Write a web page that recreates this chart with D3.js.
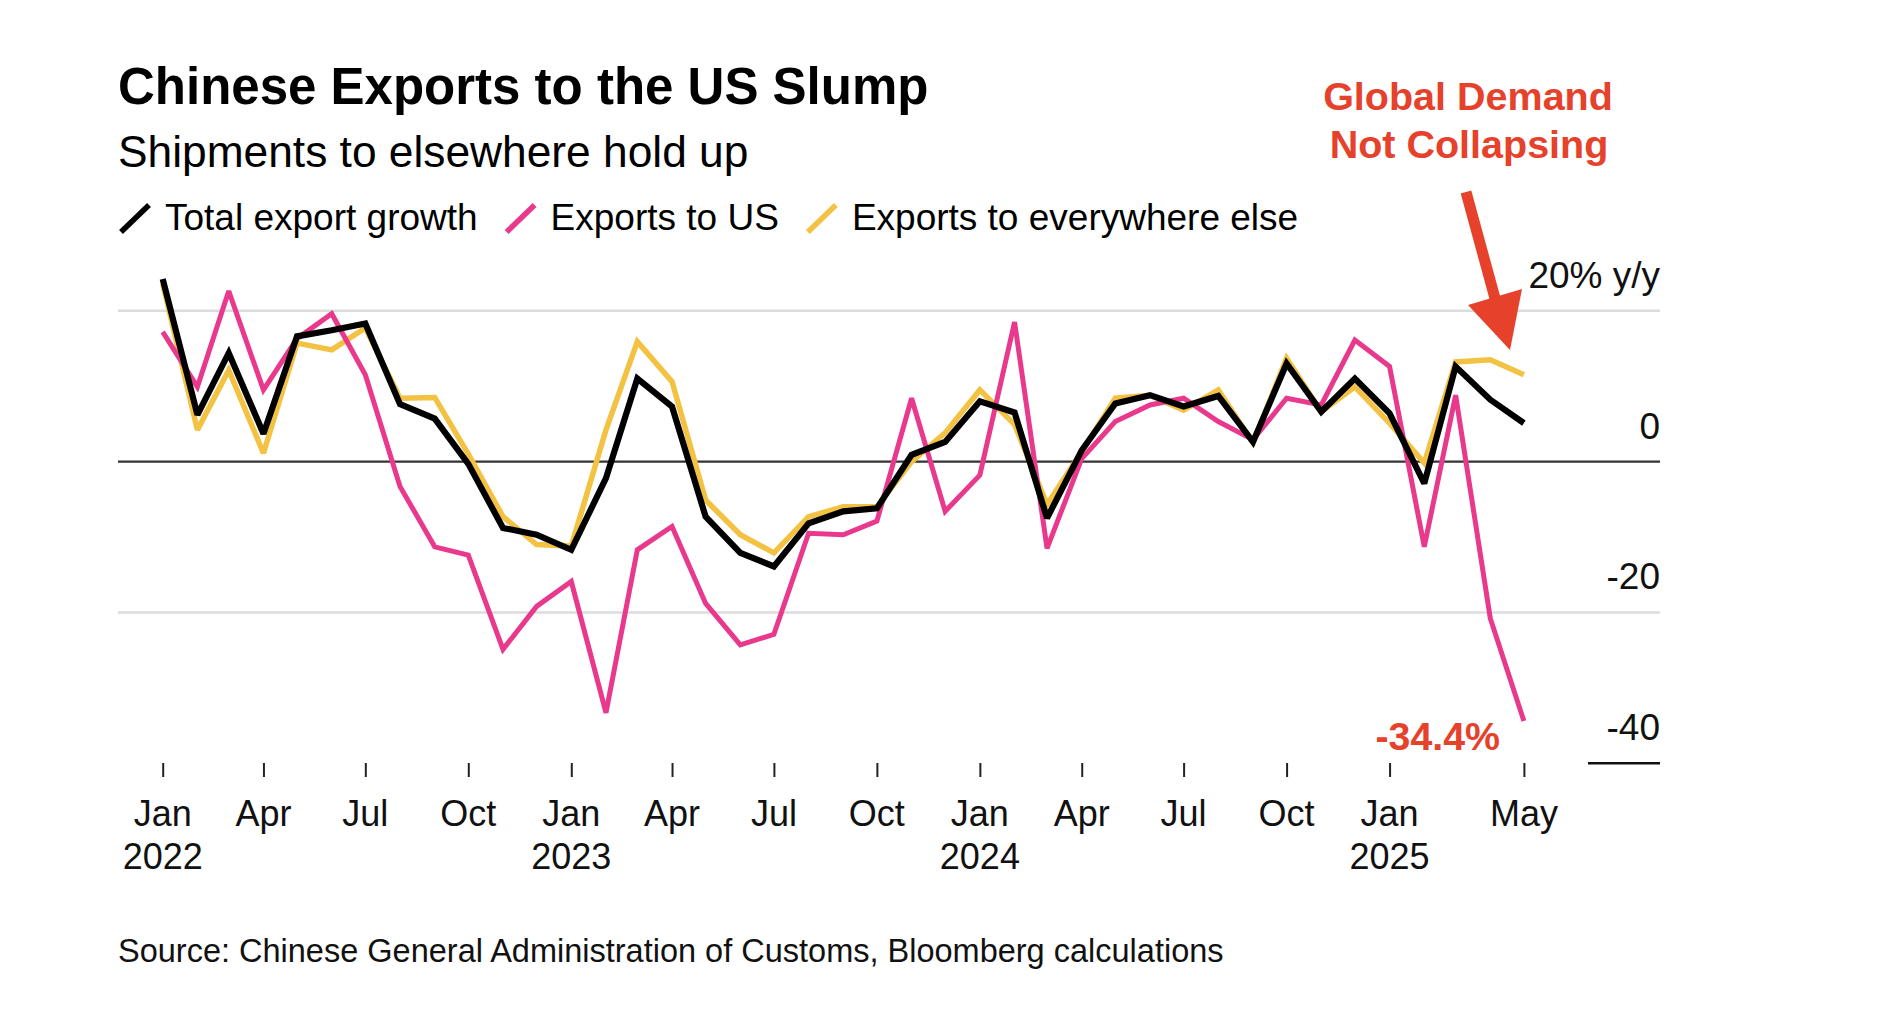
<!DOCTYPE html>
<html>
<head>
<meta charset="utf-8">
<script src="https://cdnjs.cloudflare.com/ajax/libs/d3/7.8.5/d3.min.js"></script>
<style>
  body { margin: 0; background: #fff; }
  svg text { font-family: "Liberation Sans", Arial, Helvetica, sans-serif; }
</style>
</head>
<body>
<div id="chart"></div>
<script>
const months = [
  '2022-01', '2022-02', '2022-03', '2022-04', '2022-05', '2022-06', '2022-07', '2022-08', '2022-09', '2022-10', '2022-11', '2022-12',
  '2023-01', '2023-02', '2023-03', '2023-04', '2023-05', '2023-06', '2023-07', '2023-08', '2023-09', '2023-10', '2023-11', '2023-12',
  '2024-01', '2024-02', '2024-03', '2024-04', '2024-05', '2024-06', '2024-07', '2024-08', '2024-09', '2024-10', '2024-11', '2024-12',
  '2025-01', '2025-02', '2025-03', '2025-04', '2025-05'
];

// % y/y
const totalGrowth = [
  24.2, 6.2, 14.4, 3.7, 16.6, 17.4, 18.3, 7.6, 5.7, -0.3, -8.8, -9.7,
  -11.7, -2.2, 11.0, 7.3, -7.3, -12.1, -13.9, -8.2, -6.6, -6.2, 0.9, 2.6,
  8.0, 6.5, -7.5, 1.5, 7.7, 8.8, 7.3, 8.7, 2.6, 13.0, 6.6, 11.0,
  6.4, -2.9, 12.6, 8.2, 5.1
];
const exportsToUS = [
  17.2, 9.9, 22.6, 9.5, 16.3, 19.6, 11.5, -3.3, -11.3, -12.4, -24.9, -19.2,
  -15.9, -33.3, -11.7, -8.6, -18.8, -24.3, -22.9, -9.5, -9.7, -7.9, 8.4, -6.6,
  -1.8, 18.5, -11.5, 0.4, 5.3, 7.5, 8.4, 5.3, 2.9, 8.4, 7.5, 16.1,
  12.6, -11.3, 8.8, -20.8, -34.4
];
const exportsElsewhere = [
  23.6, 4.2, 12.1, 1.1, 15.7, 14.8, 17.7, 8.4, 8.5, 1.0, -7.3, -11.0,
  -11.2, 4.2, 15.9, 10.6, -5.1, -9.7, -12.1, -7.3, -6.0, -6.0, 0.0, 3.8,
  9.5, 4.9, -5.7, 1.3, 8.4, 8.8, 6.8, 9.5, 2.5, 13.7, 6.6, 9.9,
  5.1, -0.2, 13.2, 13.5, 11.5
];

const seriesNames = ['Total export growth', 'Exports to US', 'Exports to everywhere else'];
const seriesColors = ['#000000', '#e8398d', '#f4c243'];

const yTicks = [20, 0, -20, -40];
const yTickLabels = ['20% y/y', '0', '-20', '-40'];

const xTicks = ['2022-01', '2022-04', '2022-07', '2022-10', '2023-01', '2023-04', '2023-07', '2023-10',
  '2024-01', '2024-04', '2024-07', '2024-10', '2025-01', '2025-05'];
const xTickMonths = ['Jan', 'Apr', 'Jul', 'Oct', 'Jan', 'Apr', 'Jul', 'Oct', 'Jan', 'Apr', 'Jul', 'Oct', 'Jan', 'May'];
const xTickYears = ['2022', '', '', '', '2023', '', '', '', '2024', '', '', '', '2025', ''];

const parseMonth = d3.timeParse('%Y-%m');
const red = '#e6412b';

const svgWidth = 1878;
const svgHeight = 1029;

const svg = d3.select('#chart')
  .append('svg')
  .attr('width', svgWidth)
  .attr('height', svgHeight)
  .style('background', '#fff');

const x = d3.scaleTime()
  .domain([parseMonth('2022-01'), parseMonth('2025-05')])
  .range([162.7, 1523.9]);

const y = d3.scaleLinear()
  .domain([-40, 20])
  .range([763.3, 310.7]);

const gridLeft = 118;
const gridRight = 1660;

// gridlines
svg.append('g')
  .selectAll('line')
  .data(yTicks)
  .enter()
  .append('line')
  .attr('x1', (d) => d === -40 ? 1588 : gridLeft)
  .attr('x2', gridRight)
  .attr('y1', (d) => y(d))
  .attr('y2', (d) => y(d))
  .attr('stroke', (d) => d === 0 ? '#333' : (d === -40 ? '#111' : '#dcdcdc'))
  .attr('stroke-width', (d) => d === 0 ? 2.2 : 2.6);

// y labels
svg.append('g')
  .selectAll('text')
  .data(yTicks)
  .enter()
  .append('text')
  .attr('x', gridRight)
  .attr('y', (d) => y(d) - 23)
  .attr('text-anchor', 'end')
  .attr('font-size', 37)
  .attr('fill', '#111')
  .text((d, i) => yTickLabels[i]);

// x ticks
const xAxis = d3.axisBottom(x)
  .tickValues(xTicks.map(parseMonth))
  .tickSize(14)
  .tickFormat('');

const xAxisG = svg.append('g')
  .attr('transform', 'translate(0, 763)')
  .call(xAxis);
xAxisG.select('.domain').remove();
xAxisG.selectAll('.tick line')
  .attr('stroke', '#222')
  .attr('stroke-width', 2);

const xLabels = svg.append('g')
  .selectAll('text')
  .data(xTicks)
  .enter()
  .append('text')
  .attr('text-anchor', 'middle')
  .attr('font-size', 36)
  .attr('fill', '#111');
xLabels.append('tspan')
  .attr('x', (d) => x(parseMonth(d)))
  .attr('y', 826)
  .text((d, i) => xTickMonths[i]);
xLabels.append('tspan')
  .attr('x', (d) => x(parseMonth(d)))
  .attr('y', 869)
  .text((d, i) => xTickYears[i]);

// lines, yellow under pink under black
const lineData = [exportsElsewhere, exportsToUS, totalGrowth];
const lineColors = [seriesColors[2], seriesColors[1], seriesColors[0]];
const lineWidths = [5.5, 5, 6.2];

const line = d3.line()
  .x((d, i) => x(parseMonth(months[i])))
  .y((d) => y(d));

svg.append('g')
  .selectAll('path')
  .data(lineData)
  .enter()
  .append('path')
  .attr('d', (d) => line(d))
  .attr('fill', 'none')
  .attr('stroke', (d, i) => lineColors[i])
  .attr('stroke-width', (d, i) => lineWidths[i])
  .attr('stroke-linejoin', 'miter')
  .attr('stroke-miterlimit', 2.5);

// title, subtitle
svg.append('text')
  .attr('x', 118)
  .attr('y', 104)
  .attr('font-size', 51)
  .attr('font-weight', 'bold')
  .attr('fill', '#000')
  .text('Chinese Exports to the US Slump');

svg.append('text')
  .attr('x', 118)
  .attr('y', 167)
  .attr('font-size', 44.3)
  .attr('fill', '#000')
  .text('Shipments to elsewhere hold up');

// legend
let legendX = 121;
seriesNames.forEach((name, i) => {
  const item = svg.append('g');
  item.append('line')
    .attr('x1', legendX)
    .attr('y1', 232)
    .attr('x2', legendX + 28)
    .attr('y2', 205)
    .attr('stroke', seriesColors[i])
    .attr('stroke-width', 5.5);
  const label = item.append('text')
    .attr('x', legendX + 44)
    .attr('y', 230)
    .attr('font-size', 37)
    .attr('fill', '#000')
    .text(name);
  legendX += 44 + label.node().getComputedTextLength() + 29;
});

// annotation
const note = svg.append('text')
  .attr('text-anchor', 'middle')
  .attr('font-size', 39.5)
  .attr('font-weight', 'bold')
  .attr('fill', red);
note.append('tspan').attr('x', 1468).attr('y', 110).text('Global Demand');
note.append('tspan').attr('x', 1469).attr('y', 158).text('Not Collapsing');

svg.append('line')
  .attr('x1', 1466)
  .attr('y1', 192)
  .attr('x2', 1496)
  .attr('y2', 302)
  .attr('stroke', red)
  .attr('stroke-width', 11);

svg.append('polygon')
  .attr('points', '1468,305 1522,289 1510,350')
  .attr('fill', red);

svg.append('text')
  .attr('x', 1500)
  .attr('y', 750)
  .attr('text-anchor', 'end')
  .attr('font-size', 39.3)
  .attr('font-weight', 'bold')
  .attr('fill', red)
  .text(exportsToUS[exportsToUS.length - 1].toFixed(1) + '%');

// source
svg.append('text')
  .attr('x', 118)
  .attr('y', 962)
  .attr('font-size', 32.5)
  .attr('fill', '#111')
  .text('Source: Chinese General Administration of Customs, Bloomberg calculations');
</script>
</body>
</html>
